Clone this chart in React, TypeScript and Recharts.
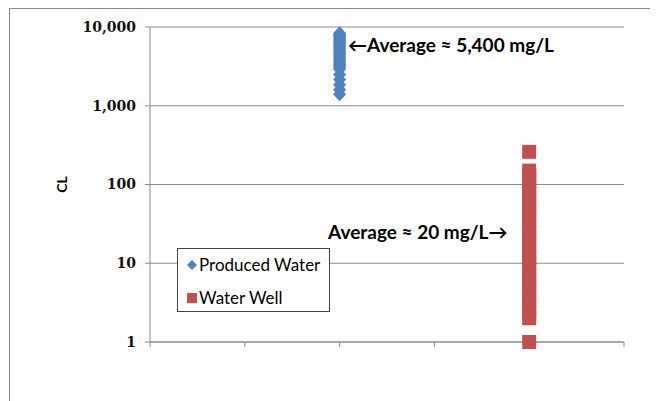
import { ScatterChart, Scatter, XAxis, YAxis, CartesianGrid } from "recharts";

const yTicks = [1, 10, 100, 1000, 10000];
const xTicks = [0, 1, 2, 3, 4, 5];
const producedWaterPos = 2;
const waterWellPos = 4;
const producedWaterCl = [
  8300, 8000, 7800, 7500, 7300, 7000, 6800, 6500, 6300, 6100, 5900, 5600,
  5400, 5200, 5000, 4800, 4600, 4400, 4200, 4000, 3850, 3700, 3500, 3350,
  3200, 3050, 2900, 2500, 2150, 1850, 1600, 1400,
];
const waterWellCl = [
  260, 150, 130, 110, 95, 78, 65, 52, 44, 36, 30, 25, 21, 17, 14, 12, 10, 8.4,
  7, 5.8, 4.8, 4, 3.3, 2.7, 2.3, 2, 1,
];

const BLUE = "#4F81BD";
const RED = "#C0504D";
const GRID = "#8a8a8a";

const producedData = producedWaterCl.map((v) => ({ x: producedWaterPos, y: v }));
const wellData = waterWellCl.map((v) => ({ x: waterWellPos, y: v }));

const Diamond = (props: any) => {
  const { cx, cy } = props;
  const w = 6.5;
  const h = 7;
  return (
    <polygon
      points={`${cx},${cy - h} ${cx + w},${cy} ${cx},${cy + h} ${cx - w},${cy}`}
      fill={BLUE}
    />
  );
};

const Square = (props: any) => {
  const { cx, cy } = props;
  const s = 7;
  return <rect x={cx - s} y={cy - s} width={s * 2} height={s * 2} fill={RED} />;
};

const annStyle: React.CSSProperties = {
  position: "absolute",
  fontFamily: "Lato, sans-serif",
  fontWeight: 700,
  fontSize: 19,
  lineHeight: "22px",
  color: "#000",
  whiteSpace: "nowrap",
};

export default function App() {
  return (
    <div style={{ position: "relative", width: 650, height: 393 }}>
      <div
        style={{
          position: "absolute",
          left: 1,
          top: 0,
          width: 660,
          height: 400,
          borderTop: "1px solid #8c8c8c",
          borderLeft: "1px solid #8c8c8c",
        }}
      />
      <ScatterChart
        width={650}
        height={393}
        margin={{ top: 19, right: 34, bottom: 49, left: 0 }}
      >
        <CartesianGrid horizontal vertical={false} stroke={GRID} />
        <XAxis
          type="number"
          dataKey="x"
          domain={[0, 5]}
          ticks={xTicks}
          height={10}
          tickFormatter={() => ""}
          tickSize={5}
          stroke={GRID}
        />
        <YAxis
          type="number"
          dataKey="y"
          scale="log"
          domain={[1, 10000]}
          ticks={yTicks}
          width={142}
          tickSize={5}
          tickMargin={9}
          stroke={GRID}
          tick={{
            fill: "#111",
            fontFamily: "DejaVu Serif",
            fontWeight: 700,
            fontSize: 14,
          }}
          tickFormatter={(v) => Number(v).toLocaleString("en-US")}
          label={{
            value: "CL",
            angle: -90,
            position: "insideLeft",
            offset: 54,
            style: {
              fill: "#000",
              fontFamily: "Lato, sans-serif",
              fontWeight: 700,
              fontSize: 14,
              textAnchor: "middle",
            },
          }}
        />
        <Scatter
          name="Produced Water"
          data={producedData}
          shape={Diamond}
          isAnimationActive={false}
        />
        <Scatter
          name="Water Well"
          data={wellData}
          shape={Square}
          isAnimationActive={false}
        />
      </ScatterChart>
      <div style={{ ...annStyle, left: 340, top: 26 }}>
        ←Average ≈ 5,400 mg/L
      </div>
      <div style={{ ...annStyle, left: 320, top: 213 }}>
        Average ≈ 20 mg/L→
      </div>
      <div
        style={{
          position: "absolute",
          left: 169,
          top: 240,
          width: 151,
          height: 62,
          border: "1px solid #444",
          background: "#fff",
          fontFamily: "Lato, sans-serif",
          fontSize: 17,
          color: "#000",
        }}
      >
        <div style={{ position: "absolute", left: 9, top: 9 }}>
          <svg width={10} height={14} style={{ display: "block" }}>
            <polygon points="5,2 10,7 5,12 0,7" fill={BLUE} />
          </svg>
        </div>
        <div style={{ position: "absolute", left: 21, top: 6, lineHeight: "20px" }}>
          Produced Water
        </div>
        <div style={{ position: "absolute", left: 9, top: 44 }}>
          <svg width={10} height={10} style={{ display: "block" }}>
            <rect x={0} y={0} width={10} height={10} fill={RED} />
          </svg>
        </div>
        <div style={{ position: "absolute", left: 21, top: 39, lineHeight: "20px" }}>
          Water Well
        </div>
      </div>
    </div>
  );
}
